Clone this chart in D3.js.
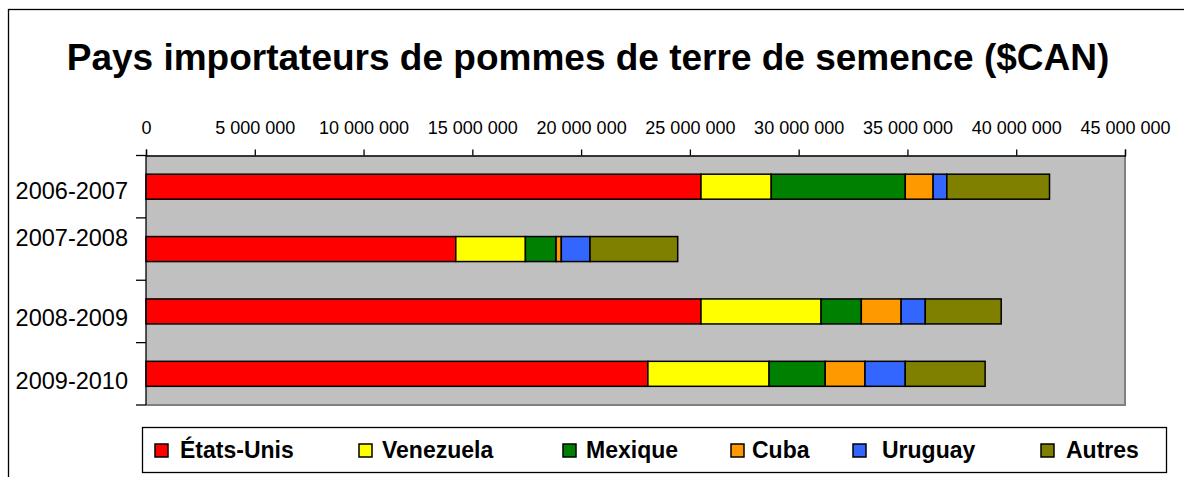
<!DOCTYPE html>
<html>
<head>
<meta charset="utf-8">
<script src="https://cdn.jsdelivr.net/npm/d3@7"></script>
<style>
  html, body { margin: 0; padding: 0; background: #fff; }
  svg { display: block; font-family: "Liberation Sans", Arial, sans-serif; }
</style>
</head>
<body>
<svg id="chart" width="1184" height="477"></svg>
<script>
// ---- Data ----
const categories = ["2006-2007", "2007-2008", "2008-2009", "2009-2010"];
const seriesNames = ["États-Unis", "Venezuela", "Mexique", "Cuba", "Uruguay", "Autres"];
const etatsUnis = [25510000, 14240000, 25510000, 23070000];
const venezuela = [3230000, 3200000, 5520000, 5570000];
const mexique   = [6160000, 1410000, 1850000, 2580000];
const cuba      = [1280000, 240000, 1830000, 1830000];
const uruguay   = [630000, 1320000, 1110000, 1850000];
const autres    = [4720000, 4030000, 3490000, 3670000];
const xTicks = [0, 5000000, 10000000, 15000000, 20000000, 25000000, 30000000, 35000000, 40000000, 45000000];
const title = "Pays importateurs de pommes de terre de semence ($CAN)";

// ---- Styles ----
const colors = ["#FF0000", "#FFFF00", "#008000", "#FF9900", "#3366FF", "#808000"];
const seriesValues = [etatsUnis, venezuela, mexique, cuba, uruguay, autres];

const rows = categories.map((c, i) => {
  const r = { cat: c };
  seriesNames.forEach((s, j) => r[s] = seriesValues[j][i]);
  return r;
});

const svg = d3.select("#chart");
const plot = { left: 146, right: 1125, top: 155.5, bottom: 405 };

// outer frame
svg.append("rect")
  .attr("x", 8.5).attr("y", 9.5).attr("width", 1200).attr("height", 500)
  .attr("fill", "#fff").attr("stroke", "#000").attr("stroke-width", 1.3);

// title
svg.append("text")
  .attr("x", 588).attr("y", 70)
  .attr("text-anchor", "middle")
  .attr("font-weight", "bold")
  .attr("font-size", 37)
  .attr("fill", "#000")
  .text(title);

const x = d3.scaleLinear().domain([0, 45000000]).range([plot.left, plot.right]);
const yOuter = d3.scaleBand().domain(categories).range([plot.top, plot.bottom]);

// plot background
svg.append("rect")
  .attr("x", plot.left).attr("y", plot.top)
  .attr("width", plot.right - plot.left).attr("height", plot.bottom - plot.top)
  .attr("fill", "#C0C0C0");
// right & bottom gray border
svg.append("path")
  .attr("d", `M${plot.right},${plot.top}V${plot.bottom}H${plot.left}`)
  .attr("fill", "none").attr("stroke", "#808080").attr("stroke-width", 2);

// stacked bars
const stack = d3.stack().keys(seriesNames)(rows);
const barH = 25;
svg.append("g").selectAll("g")
  .data(stack).join("g")
  .attr("fill", (d, i) => colors[i])
  .selectAll("rect")
  .data(d => d).join("rect")
  .attr("x", d => x(d[0]))
  .attr("width", d => x(d[1]) - x(d[0]))
  .attr("y", d => yOuter(d.data.cat) + yOuter.bandwidth() / 2 - barH / 2)
  .attr("height", barH)
  .attr("stroke", "#000")
  .attr("stroke-width", 1.5);

// top axis
const fmtLocale = d3.formatLocale({ decimal: ",", thousands: " ", grouping: [3], currency: ["", ""] });
const fmt = fmtLocale.format(",d");
const xAxis = d3.axisTop(x).tickValues(xTicks).tickFormat(fmt).tickSize(6).tickSizeOuter(6).tickPadding(16);
const gx = svg.append("g").attr("transform", `translate(0,${plot.top})`).call(xAxis);
gx.select(".domain").attr("stroke", "#000").attr("stroke-width", 1.3);
gx.selectAll(".tick line").attr("stroke", "#000").attr("stroke-width", 1.3);
gx.selectAll(".tick text").attr("font-size", 18).attr("fill", "#000")
  .attr("font-family", "'Liberation Sans', Arial, sans-serif");

// left axis line
svg.append("line")
  .attr("x1", plot.left).attr("x2", plot.left)
  .attr("y1", plot.top).attr("y2", plot.bottom)
  .attr("stroke", "#000").attr("stroke-width", 1.3);
// category boundary ticks
const boundaries = categories.map(c => yOuter(c)).concat([plot.bottom]);
svg.append("g").selectAll("line").data(boundaries).join("line")
  .attr("x1", plot.left - 10).attr("x2", plot.left)
  .attr("y1", d => d).attr("y2", d => d)
  .attr("stroke", "#000").attr("stroke-width", 1.3);
// category labels
const labelNudge = [4, -11, 6, 7];
svg.append("g").selectAll("text").data(categories).join("text")
  .attr("x", 128)
  .attr("y", (d, i) => yOuter(d) + yOuter.bandwidth() / 2 + labelNudge[i])
  .attr("dy", "0.35em")
  .attr("text-anchor", "end")
  .attr("font-size", 23.5)
  .attr("fill", "#000")
  .text(d => d);

// legend
svg.append("rect")
  .attr("x", 142.5).attr("y", 427.5).attr("width", 1024).attr("height", 45)
  .attr("fill", "#fff").attr("stroke", "#000").attr("stroke-width", 1.3);
const legendMarkerX = [155, 359, 563, 731, 853, 1041];
const legendTextX = [180, 382, 586, 752, 882, 1066];
const lg = svg.append("g").selectAll("g").data(seriesNames).join("g");
lg.append("rect")
  .attr("x", (d, i) => legendMarkerX[i]).attr("y", 444)
  .attr("width", 13).attr("height", 13)
  .attr("fill", (d, i) => colors[i])
  .attr("stroke", "#000").attr("stroke-width", 1.5);
lg.append("text")
  .attr("x", (d, i) => legendTextX[i]).attr("y", 458)
  .attr("font-size", 23).attr("font-weight", "bold").attr("fill", "#000")
  .text(d => d);
</script>
</body>
</html>
